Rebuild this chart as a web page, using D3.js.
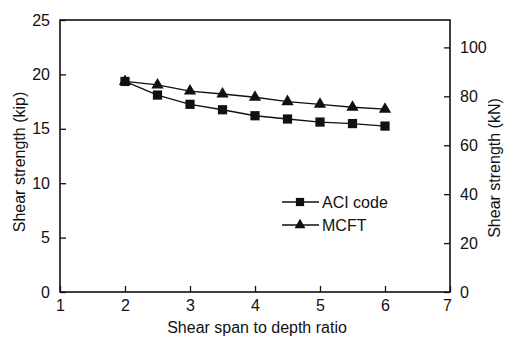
<!DOCTYPE html>
<html><head><meta charset="utf-8">
<script src="https://cdn.jsdelivr.net/npm/d3@7"></script>
<style>body{margin:0;background:#fff}text{font-family:"Liberation Sans",Arial,sans-serif;fill:#111}</style>
</head><body><svg id="c" width="507" height="337"></svg>
<script>
const ratios = [2, 2.5, 3, 3.5, 4, 4.5, 5, 5.5, 6];
const aciCode = [19.35, 18.1, 17.25, 16.75, 16.2, 15.9, 15.62, 15.48, 15.25];
const mcft = [19.35, 19.03, 18.47, 18.2, 17.9, 17.5, 17.25, 16.98, 16.8];
const xTicks = [1, 2, 3, 4, 5, 6, 7];
const kipTicks = [0, 5, 10, 15, 20, 25];
const knTicks = [0, 20, 40, 60, 80, 100];
const KN_PER_KIP = 4.448;

const svg = d3.select("#c");
const L = 60, R = 450, T = 20, B = 292;
const x = d3.scaleLinear().domain([1, 7]).range([L, R]);
const y = d3.scaleLinear().domain([0, 25]).range([B, T]);
const yk = d3.scaleLinear().domain([0, 25 * KN_PER_KIP]).range([B, T]);

svg.append("rect").attr("x", L).attr("y", T).attr("width", R - L).attr("height", B - T)
  .attr("fill", "none").attr("stroke", "#111").attr("stroke-width", 1.6);

const fs = "16px";
const gx = svg.append("g").attr("transform", `translate(0,${B})`)
  .call(d3.axisBottom(x).tickValues(xTicks).tickSizeInner(-6).tickSizeOuter(0).tickPadding(8).tickFormat(d3.format("d")));
const gy = svg.append("g").attr("transform", `translate(${L},0)`)
  .call(d3.axisLeft(y).tickValues(kipTicks).tickSizeInner(-6).tickSizeOuter(0).tickPadding(10).tickFormat(d3.format("d")));
const gr = svg.append("g").attr("transform", `translate(${R},0)`)
  .call(d3.axisRight(yk).tickValues(knTicks).tickSizeInner(-6).tickSizeOuter(0).tickPadding(10).tickFormat(d3.format("d")));
[gx, gy, gr].forEach(g => {
  g.select(".domain").remove();
  g.selectAll(".tick line").attr("stroke", "#111").attr("stroke-width", 1.3);
  g.selectAll(".tick text").style("font-size", fs).attr("fill", "#111");
});
gx.selectAll(".tick text").filter(d => d === 7).attr("dx", -3);

svg.append("text").attr("x", 257).attr("y", 333).attr("text-anchor", "middle")
  .style("font-size", fs).text("Shear span to depth ratio");
svg.append("text").attr("transform", `translate(25,162) rotate(-90)`).attr("text-anchor", "middle")
  .style("font-size", fs).text("Shear strength (kip)");
svg.append("text").attr("transform", `translate(500,168) rotate(-90)`).attr("text-anchor", "middle")
  .style("font-size", fs).text("Shear strength (kN)");

const line = d3.line().x((d, i) => x(ratios[i])).y(d => y(d));
const series = [
  { name: "ACI code", vals: aciCode, sym: d3.symbolSquare, size: 85 },
  { name: "MCFT", vals: mcft, sym: d3.symbolTriangle, size: 65 }
];
series.forEach(s => {
  svg.append("path").attr("d", line(s.vals)).attr("fill", "none").attr("stroke", "#111").attr("stroke-width", 1.3);
  svg.selectAll(null).data(s.vals).enter().append("path")
    .attr("transform", (d, i) => `translate(${x(ratios[i])},${y(d)})`)
    .attr("d", d3.symbol().type(s.sym).size(s.size)).attr("fill", "#111");
});

const lg = svg.append("g");
series.forEach((s, i) => {
  const yy = 202 + i * 23;
  lg.append("line").attr("x1", 282).attr("x2", 319).attr("y1", yy).attr("y2", yy).attr("stroke", "#111").attr("stroke-width", 1.3);
  lg.append("path").attr("transform", `translate(300,${yy})`).attr("d", d3.symbol().type(s.sym).size(s.size * 0.8)).attr("fill", "#111");
  lg.append("text").attr("x", 322).attr("y", yy + 6).style("font-size", fs).text(s.name);
});
</script></body></html>
